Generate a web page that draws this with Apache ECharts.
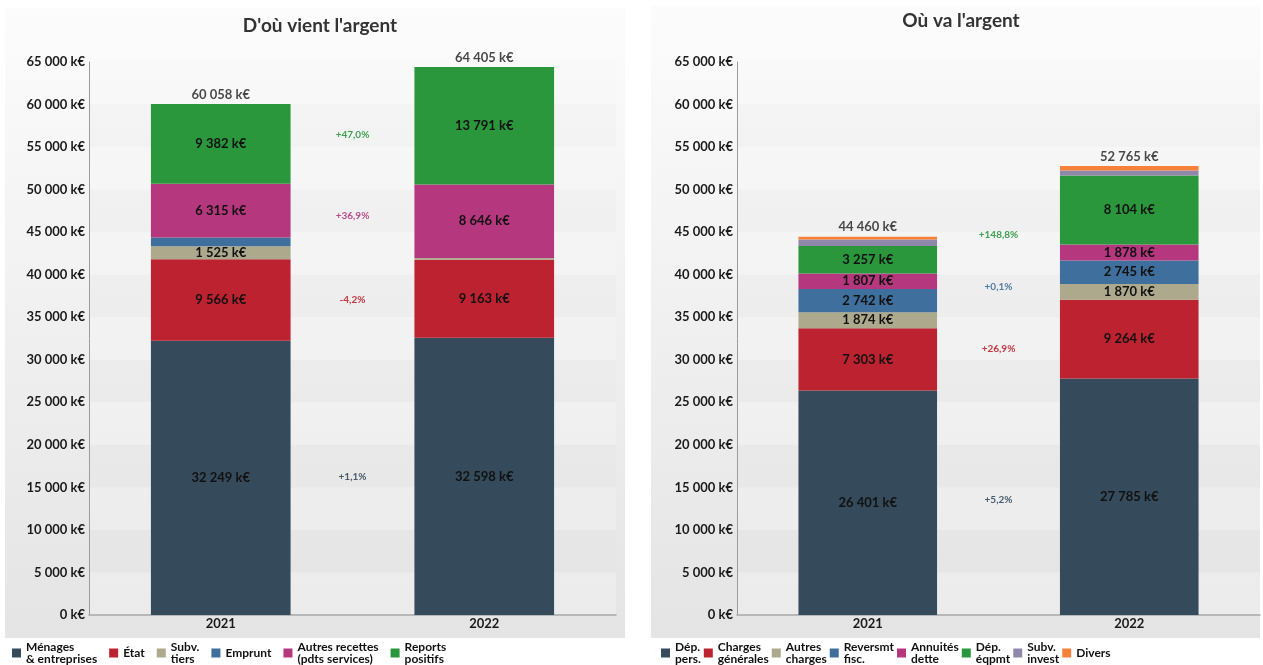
<!DOCTYPE html>
<html>
<head>
<meta charset="utf-8">
<script src="https://cdn.jsdelivr.net/npm/echarts@6/dist/echarts.min.js"></script>
<style>
  html, body { margin: 0; padding: 0; background: #ffffff; }
  #chart { width: 1263px; height: 665px; }
</style>
</head>
<body>
<div id="chart"></div>
<script>
// Years on the category axis
const years = ['2021', '2022'];

// D'où vient l'argent (recettes, k€)
const recMenages = [32249, 32598];
const recEtat = [9566, 9163];
const recSubvTiers = [1525, 207];
const recEmprunt = [1021, 0];
const recAutres = [6315, 8646];
const recReports = [9382, 13791];

// Où va l'argent (dépenses, k€)
const depPers = [26401, 27785];
const depCharges = [7303, 9264];
const depAutresCharges = [1874, 1870];
const depReversmt = [2742, 2745];
const depAnnuites = [1807, 1878];
const depEqpmt = [3257, 8104];
const depSubvInvest = [766, 599];
const depDivers = [310, 520];

// Value axis ticks (k€)
const yTicks = [0, 5000, 10000, 15000, 20000, 25000, 30000, 35000, 40000, 45000, 50000, 55000, 60000, 65000];

// Legend names, in stacking order
const recNames = ['Ménages\n& entreprises', 'État', 'Subv.\ntiers', 'Emprunt', 'Autres recettes\n(pdts services)', 'Reports\npositifs'];
const depNames = ['Dép.\npers.', 'Charges\ngénérales', 'Autres\ncharges', 'Reversmt\nfisc.', 'Annuités\ndette', 'Dép.\néqpmt', 'Subv.\ninvest', 'Divers'];

// Which categories get a 2021 → 2022 change label
const recChangeShown = [true, true, false, false, true, true];
const depChangeShown = [true, true, false, true, false, true, false, false];

const recData = [recMenages, recEtat, recSubvTiers, recEmprunt, recAutres, recReports];
const depData = [depPers, depCharges, depAutresCharges, depReversmt, depAnnuites, depEqpmt, depSubvInvest, depDivers];

const palette = ['#354b5b', '#bd2230', '#aca98d', '#3f6f9c', '#b5377e', '#2a973d', '#8f88aa', '#f5813a'];

const FONT = 'Lato, "Noto Sans", sans-serif';
const LABEL_MIN = 1200;

function fmtK(v) {
  return String(Math.round(v)).replace(/\B(?=(\d{3})+(?!\d))/g, ' ') + ' k€';
}
function fmtPct(r) {
  const p = (r * 100).toFixed(1).replace('.', ',');
  return (r >= 0 ? '+' : '') + p + '%';
}

function buildSide(names, data, shown, xCat, xVal, yIdx, stackId) {
  const series = [];
  names.forEach((name, i) => {
    series.push({
      type: 'bar',
      name: name,
      stack: stackId,
      xAxisIndex: xCat,
      yAxisIndex: yIdx,
      barWidth: '53%',
      itemStyle: { color: palette[i] },
      label: {
        show: true,
        position: 'inside',
        color: '#111',
        fontFamily: FONT,
        fontWeight: 'bold',
        fontSize: 13,
        formatter: p => (p.value >= LABEL_MIN ? fmtK(p.value) : '')
      },
      emphasis: { disabled: true },
      data: data[i]
    });
  });

  // Totals above each column
  const totals = years.map((_, j) => data.reduce((s, arr) => s + arr[j], 0));
  series.push({
    type: 'scatter',
    xAxisIndex: xCat,
    yAxisIndex: yIdx,
    symbolSize: 0,
    silent: true,
    label: {
      show: true,
      position: 'top',
      distance: 3,
      color: '#1a1a1a',
      fontFamily: FONT,
      fontWeight: 'bold',
      fontSize: 13,
      formatter: p => fmtK(p.value)
    },
    data: totals
  });

  // Change labels, placed between the columns at the mean of the two segment centres
  const changes = [];
  const base = [0, 0];
  data.forEach((arr, i) => {
    const c0 = base[0] + arr[0] / 2;
    const c1 = base[1] + arr[1] / 2;
    base[0] += arr[0];
    base[1] += arr[1];
    if (shown[i]) {
      changes.push({
        value: [1, (c0 + c1) / 2],
        label: { formatter: fmtPct(arr[1] / arr[0] - 1), color: palette[i] }
      });
    }
  });
  series.push({
    type: 'scatter',
    xAxisIndex: xVal,
    yAxisIndex: yIdx,
    symbolSize: 0,
    silent: true,
    label: {
      show: true,
      position: 'inside',
      fontFamily: FONT,
      fontWeight: 'bold',
      fontSize: 10,
      opacity: 0.9
    },
    data: changes
  });
  return series;
}

const plotBg = new echarts.graphic.LinearGradient(0, 0, 0, 1, [
  { offset: 0, color: '#f8f8f8' },
  { offset: 1, color: '#e7e7e7' }
]);
const panelBg = () => new echarts.graphic.LinearGradient(0, 0, 0, 1, [
  { offset: 0, color: '#fcfcfc' },
  { offset: 1, color: '#e4e4e4' }
]);

function yAxisDef(gridIndex) {
  return {
    type: 'value',
    gridIndex: gridIndex,
    min: yTicks[0],
    max: yTicks[yTicks.length - 1],
    interval: yTicks[1] - yTicks[0],
    axisLine: { show: true, lineStyle: { color: '#9c9c9c', width: 1 } },
    axisTick: { show: false },
    splitLine: { show: false },
    splitArea: {
      show: true,
      areaStyle: { color: ['rgba(255,255,255,0.18)', 'rgba(0,0,0,0.012)'] }
    },
    axisLabel: {
      margin: 4,
      color: '#1a1a1a',
      fontFamily: FONT,
      fontWeight: 'bold',
      fontSize: 13,
      formatter: v => fmtK(v)
    }
  };
}
function xCatDef(gridIndex) {
  return {
    type: 'category',
    gridIndex: gridIndex,
    data: years,
    axisLine: { show: true, lineStyle: { color: '#a8a8a8', width: 1.5 } },
    axisTick: { show: false },
    axisLabel: {
      margin: 2,
      color: '#1a1a1a',
      fontFamily: FONT,
      fontWeight: 'bold',
      fontSize: 13
    }
  };
}
function xValDef(gridIndex) {
  return { type: 'value', gridIndex: gridIndex, min: 0, max: 2, show: false };
}

const legendText = {
  color: '#111',
  fontFamily: FONT,
  fontWeight: 'bold',
  fontSize: 12,
  lineHeight: 12
};

const option = {
  animation: false,
  backgroundColor: '#ffffff',
  graphic: [
    { type: 'rect', z: -100, shape: { x: 5, y: 8, width: 620, height: 630 }, style: { fill: panelBg() }, silent: true },
    { type: 'rect', z: -100, shape: { x: 651, y: 6, width: 609, height: 632 }, style: { fill: panelBg() }, silent: true }
  ],
  title: [
    { text: "D'où vient l'argent", left: 315, top: 11, textAlign: 'center',
      textStyle: { fontFamily: FONT, fontWeight: 'bold', fontSize: 19, color: '#333' } },
    { text: "Où va l'argent", left: 956, top: 6, textAlign: 'center',
      textStyle: { fontFamily: FONT, fontWeight: 'bold', fontSize: 19, color: '#333' } }
  ],
  legend: [
    {
      left: 12, top: 641, padding: 0, orient: 'horizontal', itemGap: 12,
      itemWidth: 9, itemHeight: 9, icon: 'rect',
      selectedMode: false,
      textStyle: legendText,
      data: recNames
    },
    {
      left: 661, top: 641, padding: 0, orient: 'horizontal', itemGap: 3,
      itemWidth: 9, itemHeight: 9, icon: 'rect',
      selectedMode: false,
      textStyle: legendText,
      data: depNames
    }
  ],
  grid: [
    { left: 89, top: 62, width: 527, height: 553, show: true, borderWidth: 0, backgroundColor: plotBg, outerBoundsMode: 'none' },
    { left: 737, top: 62, width: 523, height: 553, show: true, borderWidth: 0, backgroundColor: plotBg, outerBoundsMode: 'none' }
  ],
  xAxis: [xCatDef(0), xValDef(0), xCatDef(1), xValDef(1)],
  yAxis: [yAxisDef(0), yAxisDef(1)],
  series: [].concat(
    buildSide(recNames, recData, recChangeShown, 0, 1, 0, 'rec'),
    buildSide(depNames, depData, depChangeShown, 2, 3, 1, 'dep')
  )
};

const chart = echarts.init(document.getElementById('chart'), null, { renderer: 'canvas' });
chart.setOption(option);
</script>
</body>
</html>
